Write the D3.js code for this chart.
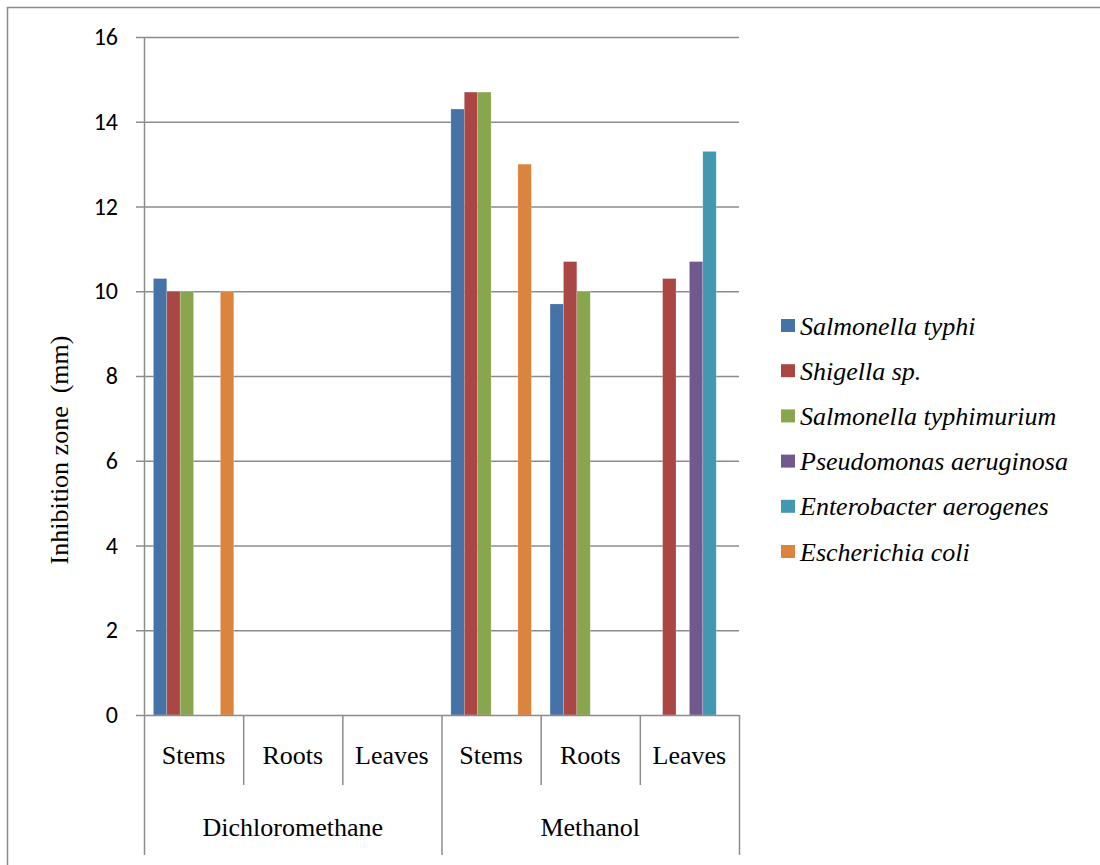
<!DOCTYPE html>
<html>
<head>
<meta charset="utf-8">
<script src="https://cdn.jsdelivr.net/npm/d3@7"></script>
<style>
    body { margin: 0; background: #fff; }
    .serif { font-family: "Liberation Serif", "Times New Roman", Times, "DejaVu Serif", serif; }
</style>
</head>
<body>
<svg id="chart"></svg>
<script>
const groups = ["Dichloromethane", "Methanol"];
const parts = ["Stems", "Roots", "Leaves"];
const seriesNames = ["Salmonella typhi", "Shigella sp.", "Salmonella typhimurium",
    "Pseudomonas aeruginosa", "Enterobacter aerogenes", "Escherichia coli"];
const seriesColors = ["#4572A7", "#AA4643", "#89A54E", "#71588F", "#4198AF", "#DB843D"];
// values per series, in order DCM stems/roots/leaves, MeOH stems/roots/leaves (0 = no zone)
const salmonellaTyphi = [10.3, 0, 0, 14.3, 9.7, 0];
const shigella = [10, 0, 0, 14.7, 10.7, 10.3];
const salmonellaTyphimurium = [10, 0, 0, 14.7, 10, 0];
const pseudomonas = [0, 0, 0, 0, 0, 10.7];
const enterobacter = [0, 0, 0, 0, 0, 13.3];
const eColi = [10, 0, 0, 13, 0, 0];
const yTicks = [0, 2, 4, 6, 8, 10, 12, 14, 16];

const seriesValues = [salmonellaTyphi, shigella, salmonellaTyphimurium, pseudomonas, enterobacter, eColi];
const categories = groups.flatMap(g => parts.map(p => ({ key: g + "|" + p, group: g, part: p })));

const W = 1100, H = 865;
const margin = { top: 37, left: 144 };
const width = 595, height = 678;
const gridColor = "#8c8c8c";

const root = d3.select("#chart").attr("width", W).attr("height", H);

// outer chart border
root.append("rect")
    .attr("x", 7.5).attr("y", 7.5)
    .attr("width", W).attr("height", H)
    .attr("fill", "none").attr("stroke", "#8a8a8a").attr("stroke-width", 1.5);

const svg = root.append("g").attr("transform", `translate(${margin.left},${margin.top})`);

const x0 = d3.scaleBand().domain(categories.map(d => d.key)).range([0, width]).padding(0);
const x1 = d3.scaleBand().domain(d3.range(seriesNames.length)).range([0, x0.bandwidth()])
    .paddingInner(0).paddingOuter(0.7);
const y = d3.scaleLinear().domain([0, 16]).range([height, 0]);

// gridlines
svg.append("g")
    .selectAll("line")
    .data(yTicks.filter(d => d > 0))
    .enter().append("line")
    .attr("x1", 0).attr("x2", width)
    .attr("y1", d => y(d) + 0.5).attr("y2", d => y(d) + 0.5)
    .attr("stroke", gridColor).attr("stroke-width", 1.5);

// bars
const bars = [];
seriesValues.forEach((vals, s) => {
    vals.forEach((v, i) => { if (v > 0) bars.push({ s, cat: categories[i].key, v }); });
});
svg.append("g")
    .selectAll("rect")
    .data(bars)
    .enter().append("rect")
    .attr("x", d => x0(d.cat) + x1(d.s))
    .attr("y", d => y(d.v))
    .attr("width", x1.bandwidth())
    .attr("height", d => height - y(d.v))
    .attr("fill", d => seriesColors[d.s])
    .attr("stroke", "rgba(255,255,255,0.35)")
    .attr("stroke-width", 0.6);

// y axis
const yAxis = svg.append("g")
    .call(d3.axisLeft(y).tickValues(yTicks).tickSize(8).tickPadding(18));
yAxis.select(".domain").attr("stroke", gridColor).attr("stroke-width", 1.5).attr("d", `M0.5,0V${height}`);
yAxis.selectAll(".tick line").attr("stroke", gridColor).attr("stroke-width", 1.5);
yAxis.selectAll(".tick text")
    .attr("font-family", "Carlito, Calibri, Lato, sans-serif")
    .attr("font-size", 24)
    .attr("fill", "#000");

// category axis (two levels)
const cat = svg.append("g").attr("transform", `translate(0,${height})`);
cat.append("line")
    .attr("x1", 0).attr("x2", width).attr("y1", 0.5).attr("y2", 0.5)
    .attr("stroke", gridColor).attr("stroke-width", 1.5);

const partEdges = d3.range(categories.length + 1).map(i => i * x0.step());
cat.selectAll(".sep")
    .data(partEdges)
    .enter().append("line")
    .attr("x1", d => d + 0.5).attr("x2", d => d + 0.5)
    .attr("y1", 0)
    .attr("y2", (d, i) => (i % parts.length === 0) ? 140 : 70)
    .attr("stroke", gridColor).attr("stroke-width", 1.5);

cat.selectAll(".part")
    .data(categories)
    .enter().append("text")
    .attr("class", "serif")
    .attr("x", d => x0(d.key) + x0.bandwidth() / 2)
    .attr("y", 49)
    .attr("text-anchor", "middle")
    .attr("font-size", 26)
    .text(d => d.part);

cat.selectAll(".group")
    .data(groups)
    .enter().append("text")
    .attr("class", "serif")
    .attr("x", (d, i) => (i + 0.5) * x0.step() * parts.length)
    .attr("y", 121)
    .attr("text-anchor", "middle")
    .attr("font-size", 26)
    .text(d => d);

// axis title
root.append("text")
    .attr("class", "serif")
    .attr("transform", "translate(68,450) rotate(-90)")
    .attr("text-anchor", "middle")
    .attr("font-size", 26)
    .attr("xml:space", "preserve")
    .style("white-space", "pre")
    .text("Inhibition zone  (mm)");

// legend
const legend = root.append("g").attr("transform", "translate(781,326)");
const item = legend.selectAll("g")
    .data(seriesNames)
    .enter().append("g")
    .attr("transform", (d, i) => `translate(0,${i * 45.2})`);
item.append("rect")
    .attr("x", 0).attr("y", -7)
    .attr("width", 14).attr("height", 13)
    .attr("fill", (d, i) => seriesColors[i]);
item.append("text")
    .attr("class", "serif")
    .attr("x", 19).attr("y", 8.5)
    .attr("font-style", "italic")
    .attr("font-size", 26)
    .text(d => d);
</script>
</body>
</html>
